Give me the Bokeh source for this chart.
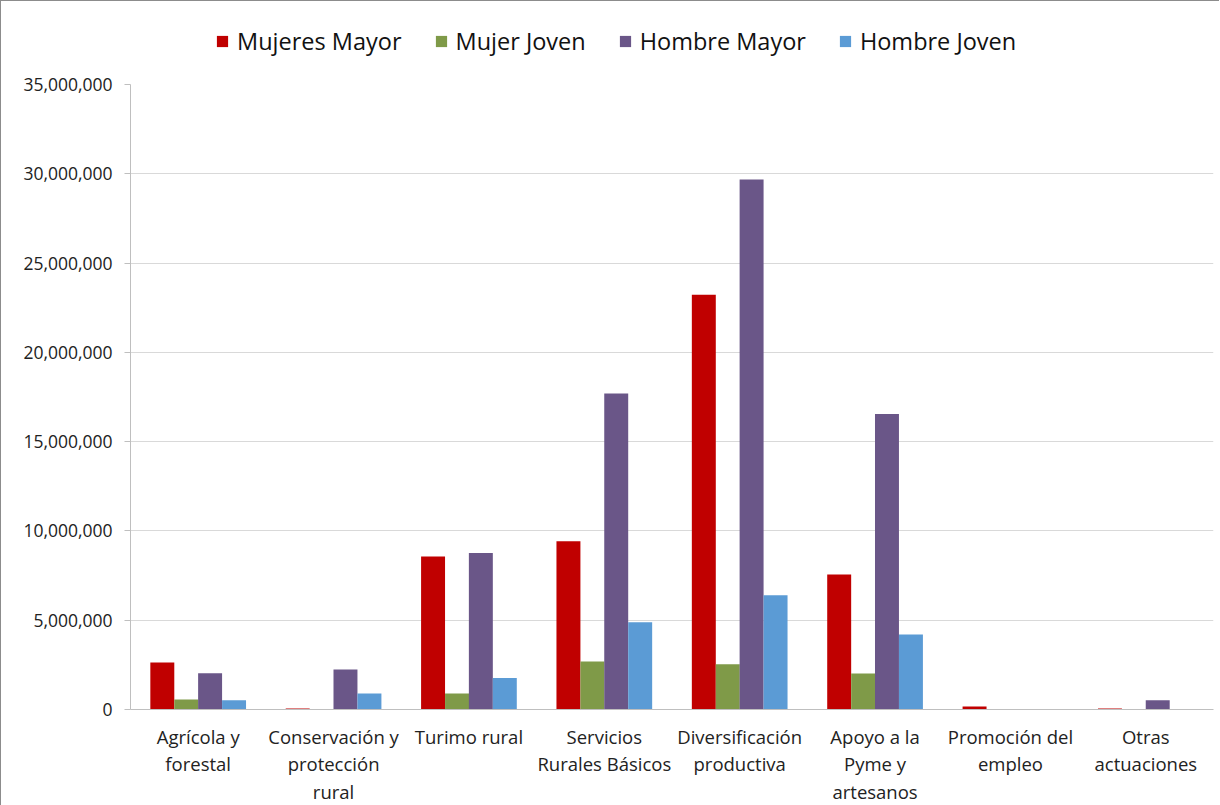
from bokeh.plotting import figure
from bokeh.layouts import column
from bokeh.models import ColumnDataSource, Legend, LegendItem, NumeralTickFormatter, FixedTicker
from bokeh.transform import dodge
from bokeh.embed import file_html
from bokeh.resources import INLINE

categories = ["Agrícola y\nforestal", "Conservación y\nprotección\nrural", "Turimo rural",
              "Servicios\nRurales Básicos", "Diversificación\nproductiva",
              "Apoyo a la\nPyme y\nartesanos", "Promoción del\nempleo", "Otras\nactuaciones"]
mujeres_mayor = [2630000, 50000, 8570000, 9420000, 23220000, 7560000, 170000, 50000]
mujer_joven = [560000, 0, 900000, 2690000, 2540000, 2020000, 0, 0]
hombre_mayor = [2030000, 2240000, 8760000, 17700000, 29680000, 16550000, 0, 520000]
hombre_joven = [520000, 900000, 1760000, 4880000, 6400000, 4200000, 0, 0]
series_names = ["Mujeres Mayor", "Mujer Joven", "Hombre Mayor", "Hombre Joven"]
y_ticks = [0, 5000000, 10000000, 15000000, 20000000, 25000000, 30000000, 35000000]

colors = ["#C00000", "#7F9A48", "#6A5688", "#5B9BD5"]
keys = ["mm", "mj", "hm", "hj"]
offsets = [-0.265, -0.088, 0.088, 0.265]

src = ColumnDataSource(dict(cat=categories, mm=mujeres_mayor, mj=mujer_joven,
                            hm=hombre_mayor, hj=hombre_joven))

p = figure(x_range=categories, y_range=(0, 35000000), frame_width=1083, frame_height=625,
           output_backend="svg", toolbar_location=None,
           min_border_left=129, min_border_right=6, min_border_top=15, min_border_bottom=97)

renderers = []
for k, c, off in zip(keys, colors, offsets):
    r = p.vbar(x=dodge("cat", off, range=p.x_range), top=k, width=0.177, source=src,
               fill_color=c, line_color=None)
    renderers.append(r)

# legend strip above the plot (swatch renderers sit outside its visible range)
lg = figure(width=1218, height=68, output_backend="svg", toolbar_location=None,
            x_axis_type=None, y_axis_type=None, min_border=0, x_range=(0, 1), y_range=(0, 1))
lg.outline_line_color = None
lg.xgrid.grid_line_color = None
lg.ygrid.grid_line_color = None
swatch_src = ColumnDataSource(dict(x=[-5], top=[0]))
dummy = [lg.vbar(x="x", top="top", width=0.1, source=swatch_src, fill_color=c, line_color=None)
         for c in colors]
legend = Legend(items=[LegendItem(label=n, renderers=[r]) for n, r in zip(series_names, dummy)],
                orientation="horizontal", location=(85, 12),
                label_text_font="Open Sans", label_text_font_size="23.5px", label_text_color="#111111",
                glyph_width=14, glyph_height=14, spacing=32, label_standoff=8,
                border_line_color=None, background_fill_alpha=0, margin=0, padding=8)
lg.add_layout(legend, "center")

p.outline_line_color = None
p.xgrid.grid_line_color = None
p.ygrid.grid_line_color = "#d9d9d9"
p.ygrid.grid_line_width = 1.2
p.yaxis.ticker = FixedTicker(ticks=y_ticks)
p.yaxis.formatter = NumeralTickFormatter(format="0,0")
p.yaxis.axis_line_color = "#bfbfbf"
p.yaxis.major_tick_line_color = "#bfbfbf"
p.yaxis.major_tick_out = 6
p.yaxis.major_tick_in = 0
p.yaxis.minor_tick_line_color = None
p.yaxis.major_label_text_font = "Open Sans"
p.yaxis.major_label_text_font_size = "17.5px"
p.yaxis.major_label_text_color = "#222222"
p.yaxis.major_label_standoff = 12

p.xaxis.axis_line_color = "#bfbfbf"
p.xaxis.major_tick_line_color = None
p.xaxis.major_label_text_font = "Open Sans"
p.xaxis.major_label_text_font_size = "18.5px"
p.xaxis.major_label_text_color = "#222222"
p.xaxis.major_label_standoff = 8
p.xaxis.major_label_text_line_height = 1.1

layout = column(lg, p, spacing=0)
layout.styles = {"border-left": "1px solid #8c8c8c", "border-top": "1px solid #8c8c8c"}
open("out.html", "w").write(file_html(layout, INLINE))
